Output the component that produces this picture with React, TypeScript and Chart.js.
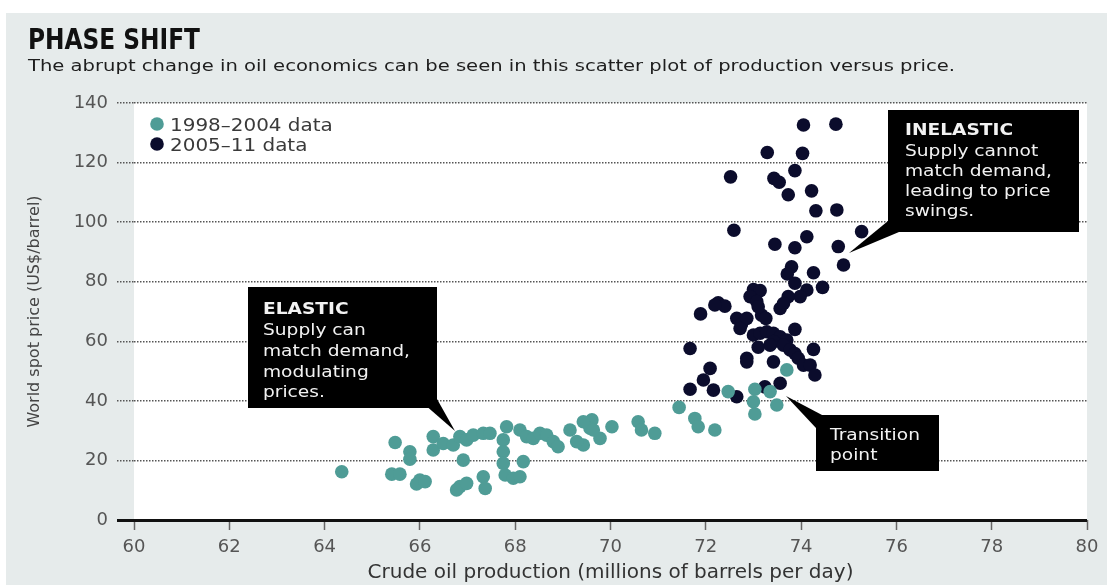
import React, { useEffect, useRef } from "react";
import { Chart, registerables } from "chart.js";

Chart.register(...registerables);

// ---- Data ----
const earlyProduction = [
  73.7, 72.47, 73.03, 73.35, 73.0, 73.49, 73.03, 71.44, 71.77, 71.84, 72.19, 70.58, 70.65, 70.93,
  69.61, 70.03, 69.57, 69.78, 69.43, 64.36, 65.48, 65.41, 65.58, 65.79, 65.79, 66.0, 65.93, 66.11,
  66.28, 66.28, 66.49, 66.7, 66.84, 66.98, 67.12, 67.33, 67.47, 66.91, 66.84, 66.77, 66.98, 67.33,
  67.37, 67.82, 67.75, 67.75, 67.75, 67.79, 67.96, 68.1, 68.17, 68.1, 68.24, 68.38, 68.52, 68.66,
  68.8, 68.9, 69.15, 69.29, 69.43, 69.64,
];
const earlyPrice = [
  50.4, 43.1, 43.9, 43.1, 39.7, 38.6, 35.6, 37.8, 34.1, 31.3, 30.2, 33.0, 30.2, 29.1,
  33.6, 31.3, 30.8, 27.4, 25.2, 16.2, 26.0, 15.4, 15.4, 22.9, 20.4, 13.4, 12.1, 12.9,
  28.0, 23.5, 25.7, 25.2, 28.0, 26.9, 28.5, 29.1, 29.1, 20.1, 11.2, 10.1, 12.3, 14.5,
  10.6, 31.3, 26.9, 22.9, 19.0, 15.1, 14.0, 14.5, 19.6, 30.2, 28.0, 27.4, 29.1, 28.5,
  26.3, 24.6, 30.2, 26.3, 33.0, 30.2,
];
const lateProduction = [
  74.05, 74.73, 73.29, 74.03, 72.52, 73.87, 73.43, 73.54, 74.22, 73.73, 74.31, 74.75, 72.59, 73.45,
  73.87, 74.12, 74.78, 75.27, 74.89, 73.8, 73.71, 74.26, 73.87, 74.45, 74.12, 73.0, 73.14, 73.98,
  73.73, 72.93, 73.07, 72.26, 72.4, 72.19, 71.89, 72.65, 72.75, 72.86, 73.17, 73.26, 73.56, 73.63,
  73.1, 72.72, 73.0, 73.14, 73.28, 73.42, 73.56, 73.87, 73.7, 73.42, 73.35, 73.63, 73.77, 73.1,
  73.87, 74.26, 71.67, 72.86, 73.42, 73.94, 74.05, 74.19, 74.29, 72.09, 71.95, 71.67, 72.16, 73.56,
  73.24, 72.65, 72.86,
];
const latePrice = [
  132.6, 132.9, 123.4, 123.1, 115.2, 117.3, 114.7, 113.4, 110.5, 109.2, 103.8, 104.1, 97.3, 92.6,
  91.4, 95.1, 91.8, 96.8, 85.6, 85.0, 82.6, 83.0, 79.5, 78.1, 77.2, 77.4, 77.0, 75.0,
  75.0, 75.0, 73.3, 72.9, 71.8, 72.2, 69.2, 67.7, 65.8, 67.7, 68.8, 67.7, 71.0, 72.7,
  71.6, 64.3, 62.1, 62.7, 63.2, 62.7, 61.5, 64.0, 60.4, 59.9, 58.7, 58.7, 57.1, 58.0,
  55.9, 57.3, 57.6, 54.3, 53.1, 54.3, 52.0, 52.0, 48.7, 50.9, 47.0, 43.9, 43.6, 45.9,
  44.7, 41.4, 53.1,
];

const seriesLabels = ["1998\u20132004 data", "2005\u201311 data"];
const titleText = "PHASE SHIFT";
const subtitleText =
  "The abrupt change in oil economics can be seen in this scatter plot of production versus price.";
const xAxisTitle = "Crude oil production (millions of barrels per day)";
const yAxisTitle = "World spot price (US$/barrel)";
const elasticLines = ["ELASTIC", "Supply can", "match demand,", "modulating", "prices."];
const inelasticLines = ["INELASTIC", "Supply cannot", "match demand,", "leading to price", "swings."];
const transitionLines = ["Transition", "point"];

const TEAL = "#4f9c96";
const NAVY = "#0b0c2c";
const PANEL = "#e6ebeb";

const zip = (xs: number[], ys: number[]) => xs.map((x, i) => ({ x, y: ys[i] }));

function drawScaled(
  ctx: CanvasRenderingContext2D,
  s: string,
  x: number,
  y: number,
  font: string,
  color: string,
  sx: number
) {
  ctx.save();
  ctx.font = font;
  ctx.fillStyle = color;
  ctx.textAlign = "left";
  ctx.textBaseline = "alphabetic";
  ctx.translate(x, y);
  ctx.scale(sx, 1);
  ctx.fillText(s, 0, 0);
  ctx.restore();
}

function drawFit(
  ctx: CanvasRenderingContext2D,
  s: string,
  x: number,
  y: number,
  font: string,
  color: string,
  width: number
) {
  ctx.save();
  ctx.font = font;
  const w = ctx.measureText(s).width || 1;
  ctx.restore();
  drawScaled(ctx, s, x, y, font, color, width / w);
}

function callout(
  ctx: CanvasRenderingContext2D,
  rect: [number, number, number, number],
  tri: [number, number][],
  lines: string[],
  tx: number,
  baselines: number[],
  boldFirst: boolean
) {
  ctx.save();
  ctx.fillStyle = "#000";
  ctx.fillRect(rect[0], rect[1], rect[2], rect[3]);
  ctx.beginPath();
  ctx.moveTo(tri[0][0], tri[0][1]);
  ctx.lineTo(tri[1][0], tri[1][1]);
  ctx.lineTo(tri[2][0], tri[2][1]);
  ctx.closePath();
  ctx.fill();
  ctx.restore();
  lines.forEach((ln, i) => {
    const bold = boldFirst && i === 0;
    drawScaled(
      ctx,
      ln,
      tx,
      baselines[i],
      `${bold ? "bold " : ""}15.5px 'DejaVu Sans', sans-serif`,
      "#f2f2f2",
      1.2
    );
  });
}

const decor = {
  id: "phaseShiftDecor",
  beforeDraw(chart: any) {
    const { ctx, chartArea } = chart;
    ctx.save();
    ctx.fillStyle = "#ffffff";
    ctx.fillRect(0, 0, chart.width, chart.height);
    ctx.fillStyle = PANEL;
    ctx.fillRect(6, 13, chart.width - 6, chart.height - 13);
    ctx.fillStyle = "#ffffff";
    ctx.fillRect(chartArea.left, chartArea.top, chartArea.right - chartArea.left, chartArea.bottom - chartArea.top);
    ctx.restore();
    drawFit(ctx, titleText, 28, 49, "bold 29px 'Liberation Sans Narrow', 'DejaVu Sans Condensed', 'DejaVu Sans', sans-serif", "#111", 172);
    drawFit(ctx, subtitleText, 28, 71, "16px 'DejaVu Sans', sans-serif", "#1e1e1e", 927);
  },
  afterDatasetsDraw(chart: any) {
    const { ctx } = chart;
    const colors = [TEAL, NAVY];
    seriesLabels.forEach((lab, i) => {
      const cy = 124 + i * 20;
      ctx.save();
      ctx.fillStyle = colors[i];
      ctx.beginPath();
      ctx.arc(157, cy, 6.8, 0, Math.PI * 2);
      ctx.fill();
      ctx.restore();
      drawScaled(ctx, lab, 170, cy + 6.5, "17.5px 'DejaVu Sans', sans-serif", "#3a3a3a", 1.14);
    });
    callout(ctx, [248, 287, 189, 121], [[428, 407.5], [437, 399], [455, 431]], elasticLines, 263, [314, 335, 356, 377, 397], true);
    callout(ctx, [888, 110, 191, 122], [[888, 221], [899, 232], [849, 253]], inelasticLines, 905, [135, 155.5, 176, 196, 216], true);
    callout(ctx, [816, 415, 123, 56], [[786, 396], [823, 415.5], [816, 428]], transitionLines, 830, [440, 460], false);
  },
};

export default function App() {
  const ref = useRef<HTMLCanvasElement | null>(null);
  useEffect(() => {
    document.body.style.margin = "0";
    const canvas = ref.current;
    if (!canvas) return;
    const isZero = (c: any) => c.tick && c.tick.value === 0;
    const chart = new Chart(canvas, {
      type: "scatter",
      data: {
        datasets: [
          {
            label: seriesLabels[0],
            data: zip(earlyProduction, earlyPrice),
            backgroundColor: TEAL,
            borderWidth: 0,
            pointRadius: 6.8,
            pointHoverRadius: 6.8,
          },
          {
            label: seriesLabels[1],
            data: zip(lateProduction, latePrice),
            backgroundColor: NAVY,
            borderWidth: 0,
            pointRadius: 6.8,
            pointHoverRadius: 6.8,
          },
        ],
      },
      options: {
        responsive: false,
        animation: false,
        events: [],
        layout: { padding: { top: 103, right: 20, left: 0, bottom: 0 } },
        plugins: {
          legend: { display: false },
          tooltip: { enabled: false },
          title: { display: false },
        },
        scales: {
          x: {
            type: "linear",
            min: 60,
            max: 80,
            ticks: {
              stepSize: 2,
              padding: 7,
              color: "#555",
              maxRotation: 0,
              font: { family: "'DejaVu Sans', sans-serif", size: 18 },
            },
            grid: {
              drawOnChartArea: false,
              drawTicks: true,
              tickLength: 10,
              tickColor: "#666",
              tickWidth: 1.5,
            },
            border: { display: false },
            title: {
              display: true,
              text: xAxisTitle,
              color: "#333",
              font: { family: "'DejaVu Sans', sans-serif", size: 20 },
              padding: { top: 0, bottom: 0 },
            },
            afterFit: (s: any) => {
              s.height = 65;
            },
          },
          y: {
            type: "linear",
            min: 0,
            max: 140,
            ticks: {
              stepSize: 20,
              padding: 9,
              color: "#555",
              font: { family: "'DejaVu Sans', sans-serif", size: 18 },
            },
            grid: {
              color: (c: any) => (isZero(c) ? "#111" : "#555"),
              lineWidth: (c: any) => (isZero(c) ? 3 : 1.5),
              tickLength: 17,
              tickColor: (c: any) => (isZero(c) ? "#111" : "#555"),
              tickWidth: (c: any) => (isZero(c) ? 3 : 1.5),
              tickBorderDash: (c: any) => (isZero(c) ? [] : [1.5, 1.5]),
            },
            border: { display: false, dash: (c: any) => (isZero(c) ? [] : [1.5, 1.5]) },
            title: {
              display: true,
              text: yAxisTitle,
              color: "#444",
              font: { family: "'DejaVu Sans', sans-serif", size: 16 },
              padding: { top: 25.5, bottom: 0 },
            },
            afterFit: (s: any) => {
              s.width = 134;
            },
          },
        },
      } as any,
      plugins: [decor],
    });
    return () => chart.destroy();
  }, []);
  return (
    <div style={{ width: 1107, height: 585 }}>
      <canvas ref={ref} width={1107} height={585} style={{ display: "block" }} />
    </div>
  );
}
